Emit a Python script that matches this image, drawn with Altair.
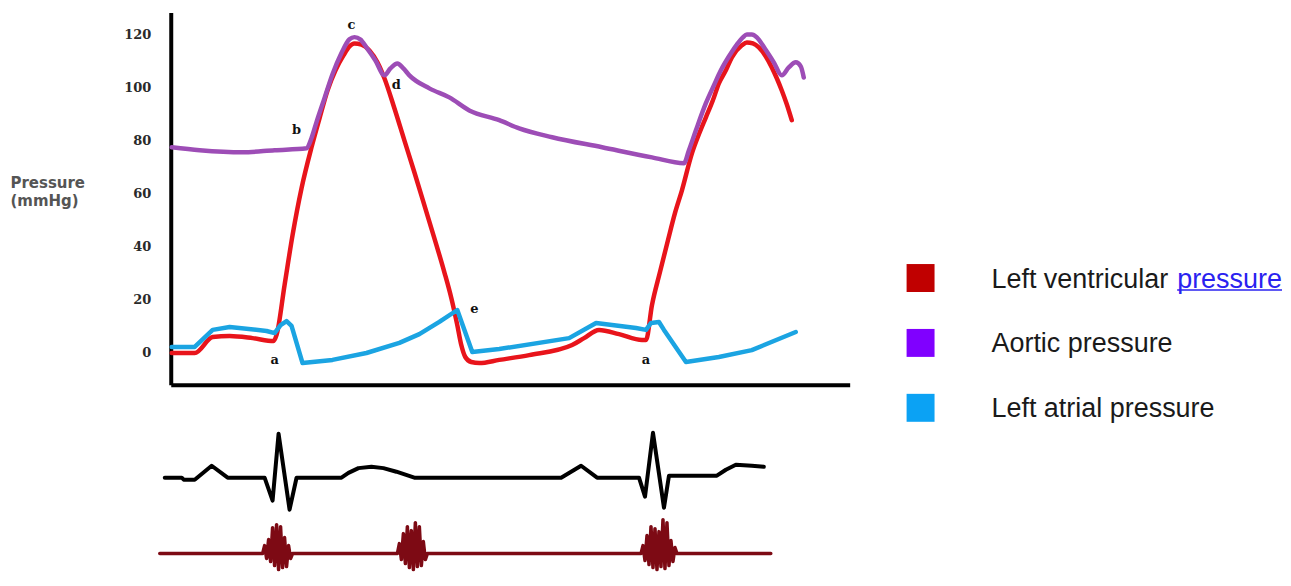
import altair as alt
import pandas as pd

# ---------------- data (time in ms, pressure in mmHg) ----------------
lv_t = [2, 48, 84, 118, 164, 206, 212, 228, 244, 262, 282, 298, 314, 330, 346, 358, 368, 382, 398, 414,
        428, 448, 468, 488, 508, 528, 548, 562, 574, 582, 590, 602, 618, 658, 718, 804, 828, 858, 898, 944,
        952, 964, 980, 996, 1010, 1024, 1044, 1058, 1072, 1086, 1098, 1112, 1124, 1144, 1154, 1166, 1178, 1192, 1204, 1214,
        1224, 1234, 1244]
lv_p = [0, 0, 6.0, 6.4, 5.6, 4.5, 6.8, 25.6, 44.4, 62.1, 77.5, 88.4, 98.9, 106.5, 112.1, 115.5, 116.6, 116.2, 114.0, 109.5,
        103.5, 92.2, 80.1, 68.1, 55.7, 43.3, 30.5, 20.7, 10.5, 3.0, -1.5, -3.4, -3.8, -2.6, -0.8, 3.0, 5.6, 8.7, 7.1, 4.9,
        4.9, 18.1, 30.5, 42.5, 52.7, 61.3, 75.2, 82.4, 88.8, 95.2, 101.6, 106.5, 111.4, 115.9, 117.0, 116.6, 115.1, 111.7, 107.6, 103.5,
        98.9, 93.7, 87.7]

ao_t = [2, 58, 144, 208, 272, 282, 292, 308, 324, 342, 358, 368, 380, 392, 410, 428, 440, 454, 466, 478,
        518, 558, 598, 658, 698, 764, 864, 964, 1028, 1038, 1052, 1072, 1088, 1102, 1118, 1134, 1146, 1154, 1164, 1174,
        1190, 1208, 1224, 1238, 1252, 1262, 1268]
ao_p = [77.5, 76.4, 75.6, 76.4, 77.1, 81.0, 87.0, 96.0, 105.0, 113.0, 118.2, 119.0, 118.1, 115.1, 110.2, 104.6, 107.2, 109.1, 107.2, 104.6,
        99.7, 96.3, 91.4, 87.7, 84.6, 81.3, 77.5, 73.7, 71.5, 76.4, 83.9, 94.1, 100.8, 106.5, 111.7, 116.2, 118.9, 120.0, 120.0, 118.9,
        114.7, 109.5, 104.6, 107.6, 109.5, 108.0, 103.8]

la_t = [2, 48, 84, 118, 192, 208, 220, 232, 242, 264, 324, 392, 458, 498, 538, 574, 604, 658, 798, 852,
        932, 952, 962, 978, 988, 1032, 1098, 1164, 1252]
la_p = [2.3, 2.3, 8.7, 9.8, 8.3, 7.5, 10.5, 12.0, 10.2, -3.8, -2.6, 0, 3.8, 7.1, 11.7, 16.2, 0.4, 1.5, 5.6, 11.3,
        9.4, 8.7, 11.3, 11.7, 8.7, -3.4, -1.5, 1.1, 7.9]

# point annotations
ann_label = ["a", "b", "c", "d", "e", "a"]
ann_t = [208, 252, 362, 452, 608, 952]
ann_p = [-2.6, 83.9, 123.4, 100.8, 16.6, -2.6]

# ECG (mV)
ecg_t = [-12, 22, 26, 48, 82, 114, 188, 204, 216, 238, 252, 342, 356, 376, 402, 426, 452, 488, 782, 822,
         854, 938, 950, 966, 988, 998, 1094, 1112, 1132, 1164, 1188]
ecg_mv = [0, 0, -0.05, -0.05, 0.3, 0, 0, -0.575, 1.1, -0.8, 0, 0, 0.12, 0.24, 0.275, 0.24, 0.15, 0, 0, 0.3,
          0, 0, -0.475, 1.125, -0.75, 0.05, 0.05, 0.2, 0.325, 0.3, 0.275]

# Phonocardiogram (arbitrary units)
pcg_t = [-22,
         184, 188, 192, 196, 200, 204, 208, 212, 216, 220, 224, 228, 232, 236, 240, 244,
         454, 458, 462, 466, 470, 474, 478, 482, 486, 490, 494, 498, 502, 506, 510, 514,
         942, 946, 950, 954, 958, 962, 966, 970, 974, 978, 982, 986, 990, 994, 998, 1002, 1006, 1010, 1014,
         1202]
pcg_a = [0,
         0, 8, -5, 14, -8, 26, -12, 29, -16, 27, -14, 16, -13, 8, -5, 0,
         0, 10, -6, 20, -10, 27, -14, 23, -16, 31, -13, 27, -12, 12, -6, 0,
         0, 8, -7, 18, -11, 27, -14, 25, -16, 22, -13, 34, -15, 31, -12, 13, -8, 6, 0,
         0]

# legend
legend_items = ["Left ventricular pressure", "Aortic pressure", "Left atrial pressure"]
legend_text = ["Left ventricular", "Aortic pressure", "Left atrial pressure"]
legend_colors = ["#c00000", "#8000ff", "#0ba2f4"]

# ---------------- chart ----------------
x_scale = alt.Scale(domain=[0, 1360])
y_scale = alt.Scale(domain=[-12, 128.3], nice=False, zero=False)

x_axis = alt.Axis(labels=False, ticks=False, title=None, grid=False, domain=True,
                  domainColor="black", domainWidth=4)
y_axis = alt.Axis(values=[0, 20, 40, 60, 80, 100, 120], grid=False, ticks=False, tickSize=0,
                  domain=True, domainColor="black", domainWidth=4,
                  labelPadding=20, labelFont="DejaVu Serif", labelFontWeight="bold",
                  labelFontSize=13, labelColor="#2a2a2a",
                  title=["Pressure", "(mmHg)"], titleAngle=0, titleAlign="left",
                  titleBaseline="top", titleX=-161, titleY=163,
                  titleFont="DejaVu Sans", titleFontSize=15, titleFontWeight="bold",
                  titleColor="#555555", titleLineHeight=18)


def trace(ts, ps, color, interp):
    df = pd.DataFrame({"t": ts, "p": ps})
    return alt.Chart(df).mark_line(color=color, strokeWidth=4.5, strokeCap="round",
                                   strokeJoin="round", interpolate=interp).encode(
        x=alt.X("t:Q", scale=x_scale, axis=x_axis),
        y=alt.Y("p:Q", scale=y_scale, axis=y_axis),
    )


lv = trace(lv_t, lv_p, "#e8141b", "monotone")
ao = trace(ao_t, ao_p, "#9d4db6", "monotone")
la = trace(la_t, la_p, "#1ba4e2", "linear")

ann = alt.Chart(pd.DataFrame({"t": ann_t, "p": ann_p, "lab": ann_label})).mark_text(
    font="DejaVu Serif", fontWeight="bold", fontSize=13, color="#111111"
).encode(
    x=alt.X("t:Q", scale=x_scale, axis=x_axis),
    y=alt.Y("p:Q", scale=y_scale, axis=y_axis),
    text="lab:N",
)

pressure = alt.layer(lv, ao, la, ann)

leg_df = pd.DataFrame({"item": legend_items, "txt": legend_text, "col": legend_colors})
leg_y = alt.Y("item:N", scale=alt.Scale(type="point", domain=legend_items, range=[266, 396], padding=0),
              axis=None)

leg_sq = alt.Chart(leg_df).mark_square(size=784, opacity=1, filled=True).encode(
    x=alt.value(751), y=leg_y, color=alt.Color("col:N", scale=None))
leg_tx = alt.Chart(leg_df).mark_text(
    align="left", baseline="alphabetic", dy=9.5, fontSize=27, font="Liberation Sans", color="#1a1a1a"
).encode(x=alt.value(822), y=leg_y, text="txt:N")

link_df = pd.DataFrame({"item": [legend_items[0]], "txt": ["pressure"]})
leg_link = alt.Chart(link_df).mark_text(
    align="left", baseline="alphabetic", dy=9.5, fontSize=27, font="Liberation Sans", color="#2a22f0"
).encode(x=alt.value(1008), y=leg_y, text="txt:N")
leg_ul = alt.Chart(link_df).mark_rule(color="#2a22f0", strokeWidth=1.6, yOffset=12).encode(
    x=alt.value(1008), x2=alt.value(1113), y=leg_y)

legend = alt.layer(leg_sq, leg_tx, leg_link, leg_ul)

main = alt.layer(pressure, legend).resolve_scale(y="independent").properties(width=680, height=373)

ecg = alt.Chart(pd.DataFrame({"t": ecg_t, "v": ecg_mv})).mark_line(
    color="black", strokeWidth=4, strokeJoin="round", strokeCap="round"
).encode(
    x=alt.X("t:Q", scale=x_scale, axis=None),
    y=alt.Y("v:Q", scale=alt.Scale(domain=[-2.35, 1.25], nice=False, zero=False), axis=None),
)
pcg = alt.Chart(pd.DataFrame({"t": pcg_t, "v": pcg_a})).mark_line(
    color="#7d0a14", strokeWidth=3.5, strokeJoin="round", strokeCap="round"
).encode(
    x=alt.X("t:Q", scale=x_scale, axis=None),
    y=alt.Y("v:Q", scale=alt.Scale(domain=[-18, 126], nice=False, zero=False), axis=None),
)
lower = alt.layer(ecg, pcg).resolve_scale(y="independent").properties(width=680, height=144)

chart = alt.vconcat(main, lower, spacing=43, bounds="flush").properties(
    padding={"left": 2, "top": 4, "right": 0, "bottom": 0},
    background="white",
).configure_view(stroke=None)

chart.save("out.html", embed_options={"renderer": "svg", "actions": False})
